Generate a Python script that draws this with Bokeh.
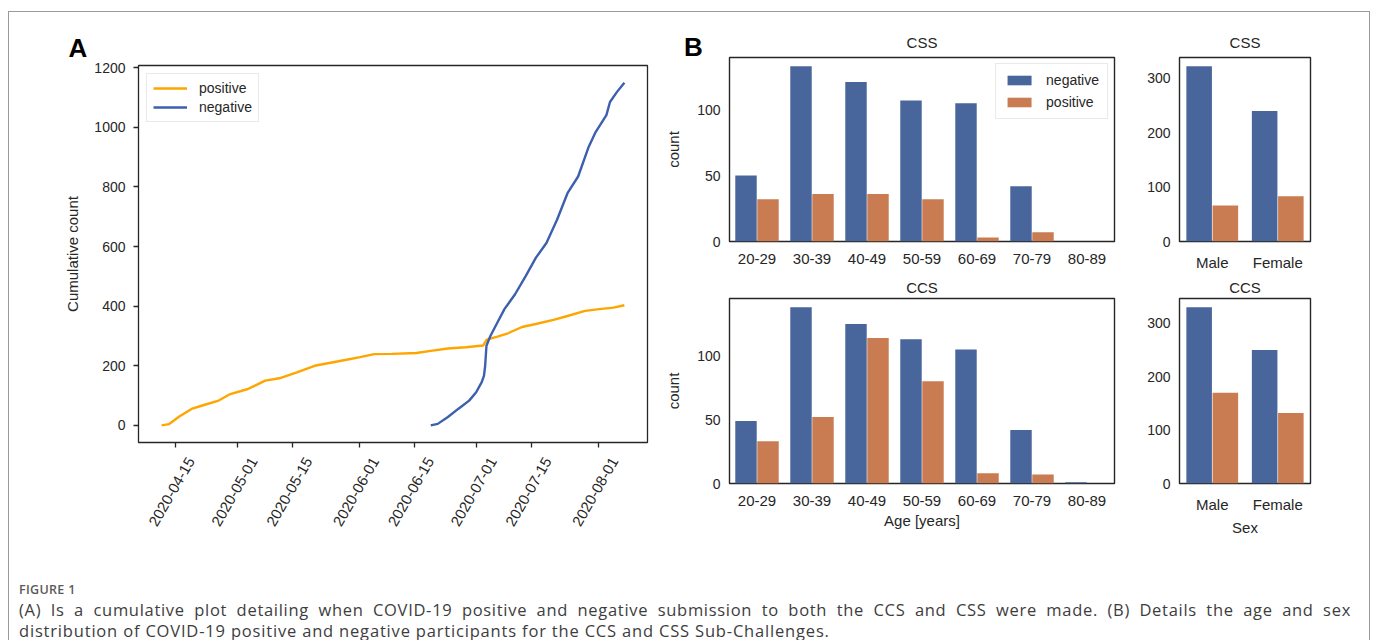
import numpy as np
import pandas as pd
from math import pi
from bokeh.plotting import figure
from bokeh.models import (Range1d, FactorRange, FixedTicker, DatetimeAxis,
                          DatetimeTickFormatter, Legend, LegendItem, Div,
                          ColumnDataSource)
from bokeh.layouts import row, column
from bokeh.transform import dodge
from bokeh.embed import file_html
from bokeh.resources import INLINE

# ---------------- data ----------------
pos_dates = ["2020-04-11 14:00", "2020-04-13 10:00", "2020-04-16 02:00", "2020-04-19 05:00",
             "2020-04-22 19:00", "2020-04-25 22:00", "2020-04-29 02:00", "2020-05-03 14:00",
             "2020-05-08 00:00", "2020-05-11 14:00", "2020-05-16 02:00", "2020-05-20 14:00",
             "2020-05-25 00:00", "2020-05-28 17:00", "2020-06-01 05:00", "2020-06-04 19:00",
             "2020-06-09 07:00", "2020-06-15 14:00", "2020-06-19 05:00", "2020-06-23 14:00",
             "2020-06-28 02:00", "2020-07-02 14:00", "2020-07-03 12:00", "2020-07-06 05:00",
             "2020-07-08 22:00", "2020-07-12 12:00", "2020-07-16 00:00", "2020-07-20 12:00",
             "2020-07-24 02:00", "2020-07-28 14:00", "2020-08-01 05:00", "2020-08-04 19:00",
             "2020-08-07 14:00"]
pos_vals = [0, 4, 30, 55, 70, 82, 105, 122, 150, 158, 178, 200, 211, 220, 229, 239, 240,
            243, 250, 258, 262, 268, 288, 298, 309, 330, 340, 354, 367, 384, 390, 395, 403]

neg_dates = ["2020-06-19 05:00", "2020-06-21 00:00", "2020-06-23 14:00", "2020-06-26 07:00",
             "2020-06-29 00:00", "2020-06-30 19:00", "2020-07-02 05:00", "2020-07-02 19:00",
             "2020-07-03 02:00", "2020-07-03 10:00", "2020-07-04 10:00", "2020-07-06 05:00",
             "2020-07-08 00:00", "2020-07-10 17:00", "2020-07-13 10:00", "2020-07-16 00:00",
             "2020-07-18 17:00", "2020-07-21 10:00", "2020-07-24 02:00", "2020-07-26 19:00",
             "2020-07-29 12:00", "2020-07-31 07:00", "2020-08-03 00:00", "2020-08-03 22:00",
             "2020-08-05 17:00", "2020-08-07 14:00"]
neg_vals = [0, 5, 28, 56, 83, 111, 145, 167, 200, 267, 300, 345, 390, 440, 501, 562, 612,
            690, 779, 835, 935, 985, 1041, 1085, 1119, 1150]

date_ticks = ["2020-04-15", "2020-05-01", "2020-05-15", "2020-06-01", "2020-06-15",
              "2020-07-01", "2020-07-15", "2020-08-01"]
count_ticks = [0, 200, 400, 600, 800, 1000, 1200]

ages = ["20-29", "30-39", "40-49", "50-59", "60-69", "70-79", "80-89"]
css_age_neg = [50, 133, 121, 107, 105, 42, 0]
css_age_pos = [32, 36, 36, 32, 3, 7, 0]
ccs_age_neg = [49, 138, 125, 113, 105, 42, 1]
ccs_age_pos = [33, 52, 114, 80, 8, 7, 0]

sexes = ["Male", "Female"]
css_sex_neg = [322, 240]
css_sex_pos = [66, 83]
ccs_sex_neg = [330, 250]
ccs_sex_pos = [170, 132]

age_ticks = [0, 50, 100]
sex_ticks = [0, 100, 200, 300]

# ---------------- style ----------------
FONT = "Liberation Sans"
TXT = "#262626"
LINE_ORANGE = "#FFA500"
LINE_BLUE = "#3C5FAE"
BAR_BLUE = "#48669B"
BAR_ORANGE = "#C97C52"


def ms(lst):
    return pd.to_datetime(pd.Series(lst)).values.astype("datetime64[ms]").astype("int64")


def base_fig(**kw):
    p = figure(output_backend="svg", toolbar_location=None, **kw)
    p.grid.visible = False
    p.outline_line_color = TXT
    p.outline_line_width = 1.4
    p.background_fill_color = "white"
    p.border_fill_color = None
    return p


# ---------------- panel A ----------------
pos_ms = ms(pos_dates)
neg_ms = ms(neg_dates)
allx = np.concatenate([pos_ms, neg_ms])
x0, x1 = float(allx.min()), float(allx.max())
xpad = 0.05 * (x1 - x0)
ally = pos_vals + neg_vals
y0, y1 = min(ally), max(ally)
ypad = 0.05 * (y1 - y0)

# labels are drawn from a range shifted right so that the rotated labels are centred on
# their ticks (matplotlib style); the ticks themselves are drawn as minor ticks at the
# true dates.
shift = (x1 - x0 + 2 * xpad) / 509 * 16
pA = base_fig(width=653, height=531, x_axis_location=None,
              x_range=Range1d(x0 - xpad - shift, x1 + xpad - shift),
              y_range=Range1d(y0 - ypad, y1 + ypad),
              min_border_left=129, min_border_right=15,
              min_border_top=53, min_border_bottom=101)
pA.extra_x_ranges = {"data": Range1d(x0 - xpad, x1 + xpad)}
pA.outline_line_width = 1.3
pA.title.text = "A"
pA.title.align = "left"
pA.title.offset = -70
pA.title.standoff = 6
pA.title.text_font = FONT
pA.title.text_font_size = "26px"
pA.title.text_font_style = "bold"
pA.title.text_color = "black"

rp = pA.line(pos_ms, pos_vals, color=LINE_ORANGE, line_width=2.4, x_range_name="data")
rn = pA.line(neg_ms, neg_vals, color=LINE_BLUE, line_width=2.4, x_range_name="data")

tick_ms = [float(v) for v in ms(date_ticks)]
lab_axis = DatetimeAxis(ticker=FixedTicker(ticks=tick_ms,
                                           minor_ticks=[t - shift for t in tick_ms]),
                        formatter=DatetimeTickFormatter(days="%Y-%m-%d", months="%Y-%m-%d",
                                                        years="%Y-%m-%d", hours="%Y-%m-%d"))
lab_axis.major_tick_out = 0
lab_axis.major_tick_in = 0
lab_axis.minor_tick_out = 5
lab_axis.minor_tick_in = 0
lab_axis.minor_tick_line_color = TXT
lab_axis.minor_tick_line_width = 1.3
lab_axis.axis_line_color = None
lab_axis.major_label_orientation = pi / 3
lab_axis.major_label_standoff = 11
lab_axis.major_label_text_font = FONT
lab_axis.major_label_text_font_size = "15px"
lab_axis.major_label_text_color = TXT
pA.add_layout(lab_axis, "below")

ya = pA.yaxis[0]
ya.ticker = FixedTicker(ticks=count_ticks)
ya.major_tick_out = 5
ya.major_tick_in = 0
ya.major_tick_line_color = TXT
ya.major_tick_line_width = 1.3
ya.minor_tick_line_color = None
ya.axis_line_color = None
ya.major_label_standoff = 8
ya.major_label_text_font = FONT
ya.major_label_text_font_size = "14px"
ya.major_label_text_color = TXT
ya.axis_label = "Cumulative count"
ya.axis_label_text_font = FONT
ya.axis_label_text_font_size = "15px"
ya.axis_label_text_font_style = "normal"
ya.axis_label_text_color = TXT
ya.axis_label_standoff = 10

legA = Legend(items=[LegendItem(label="positive", renderers=[rp]),
                     LegendItem(label="negative", renderers=[rn])],
              location="top_left")
legA.margin = 8
legA.padding = 6
legA.spacing = 3
legA.glyph_width = 34
legA.glyph_height = 14
legA.label_text_font = FONT
legA.label_text_font_size = "14px"
legA.label_text_color = TXT
legA.label_standoff = 12
legA.border_line_color = "#d4d4d4"
legA.border_line_width = 1
legA.background_fill_alpha = 0.9
pA.add_layout(legA)


# ---------------- panel B ----------------
def bar_fig(cats, neg, pos, ticks, title, width, height, mb, tstand, ylabel=None,
            xlabel=None, legend=False):
    p = base_fig(width=width, height=height, x_range=FactorRange(*cats),
                 y_range=Range1d(0, max(neg + pos) * 1.05),
                 min_border_left=mb[0], min_border_right=mb[1],
                 min_border_top=mb[2], min_border_bottom=mb[3])
    src = ColumnDataSource(dict(cat=cats, neg=neg, pos=pos))
    r1 = p.vbar(x=dodge("cat", -0.2, range=p.x_range), top="neg", width=0.39, source=src,
                fill_color=BAR_BLUE, line_color=None)
    r2 = p.vbar(x=dodge("cat", 0.2, range=p.x_range), top="pos", width=0.39, source=src,
                fill_color=BAR_ORANGE, line_color=None)
    p.title.text = title
    p.title.align = "center"
    p.title.text_font = FONT
    p.title.text_font_size = "15px"
    p.title.text_font_style = "normal"
    p.title.text_color = TXT
    p.title.standoff = tstand
    for ax in (p.xaxis[0], p.yaxis[0]):
        ax.major_tick_out = 0
        ax.major_tick_in = 0
        ax.minor_tick_line_color = None
        ax.axis_line_color = None
        ax.major_label_text_font = FONT
        ax.major_label_text_color = TXT
        ax.axis_label_text_font = FONT
        ax.axis_label_text_font_size = "15px"
        ax.axis_label_text_font_style = "normal"
        ax.axis_label_text_color = TXT
        ax.axis_label = None
    p.xaxis[0].major_label_text_font_size = "15px"
    p.yaxis[0].major_label_text_font_size = "14px"
    p.yaxis[0].ticker = FixedTicker(ticks=ticks)
    p.yaxis[0].major_label_standoff = 9
    p.xaxis[0].major_label_standoff = 12
    if ylabel:
        p.yaxis[0].axis_label = ylabel
        p.yaxis[0].axis_label_standoff = 12
    if xlabel:
        p.xaxis[0].axis_label = xlabel
        p.xaxis[0].axis_label_standoff = 3
    if legend:
        lg = Legend(items=[LegendItem(label="negative", renderers=[r1]),
                           LegendItem(label="positive", renderers=[r2])],
                    location="top_right")
        lg.margin = 6
        lg.padding = 8
        lg.spacing = 6
        lg.glyph_width = 30
        lg.glyph_height = 12
        lg.label_text_font = FONT
        lg.label_text_font_size = "14px"
        lg.label_text_color = TXT
        lg.label_standoff = 12
        lg.border_line_color = "#d4d4d4"
        lg.background_fill_alpha = 0.9
        p.add_layout(lg)
    return p


b1 = bar_fig(ages, css_age_neg, css_age_pos, age_ticks, "CSS", 477, 261, (65, 25, 45, 30),
             13, ylabel="count", legend=True)
b2 = bar_fig(sexes, css_sex_neg, css_sex_pos, sex_ticks, "CSS", 191, 261, (40, 20, 45, 30),
             13)
b3 = bar_fig(ages, ccs_age_neg, ccs_age_pos, age_ticks, "CCS", 477, 270, (65, 25, 24, 60),
             6, ylabel="count", xlabel="Age [years]")
b4 = bar_fig(sexes, ccs_sex_neg, ccs_sex_pos, sex_ticks, "CCS", 191, 270, (40, 20, 24, 60),
             6, xlabel="Sex")

# panel letter "B", laid over the empty top-left corner of the CSS age panel
bdiv = Div(text="<div style=\"padding:22px 0 0 22px; font-family:'Liberation Sans'; "
                "font-weight:bold; font-size:26px; line-height:26px; color:#000;\">B</div>",
           width=80, height=50, margin=(0, 0, -50, 0))

caption_html = (
    "<div style=\"font-family:'Open Sans'; padding:0 0 0 5px; width:1337px;\">"
    "<div style=\"font-size:12.5px; font-weight:600; color:#5a5a5a; margin-top:33px; "
    "line-height:18px; letter-spacing:0.3px;\">FIGURE 1</div>"
    "<div style=\"font-size:16.5px; letter-spacing:0.7px; color:#3d3d3d; line-height:21px; "
    "text-align:justify; text-align-last:justify; white-space:nowrap;\">(A) Is a cumulative plot "
    "detailing when COVID-19 positive and negative submission to both the CCS and CSS were "
    "made. (B) Details the age and sex</div>"
    "<div style=\"font-size:16.5px; letter-spacing:0.82px; color:#3d3d3d; line-height:21px; "
    "white-space:nowrap;\">distribution of COVID-19 positive and negative participants for "
    "the CCS and CSS Sub-Challenges.</div>"
    "</div>"
)
cap = Div(text=caption_html, width=1360, height=97)

right = column(bdiv, row(b1, b2), row(b3, b4))
layout = column(row(pA, right), cap, margin=(12, 0, 0, 9), width=1360, height=628,
                styles={"outline": "1px solid #9a9a9a"})

open("out.html", "w").write(file_html(layout, INLINE))
